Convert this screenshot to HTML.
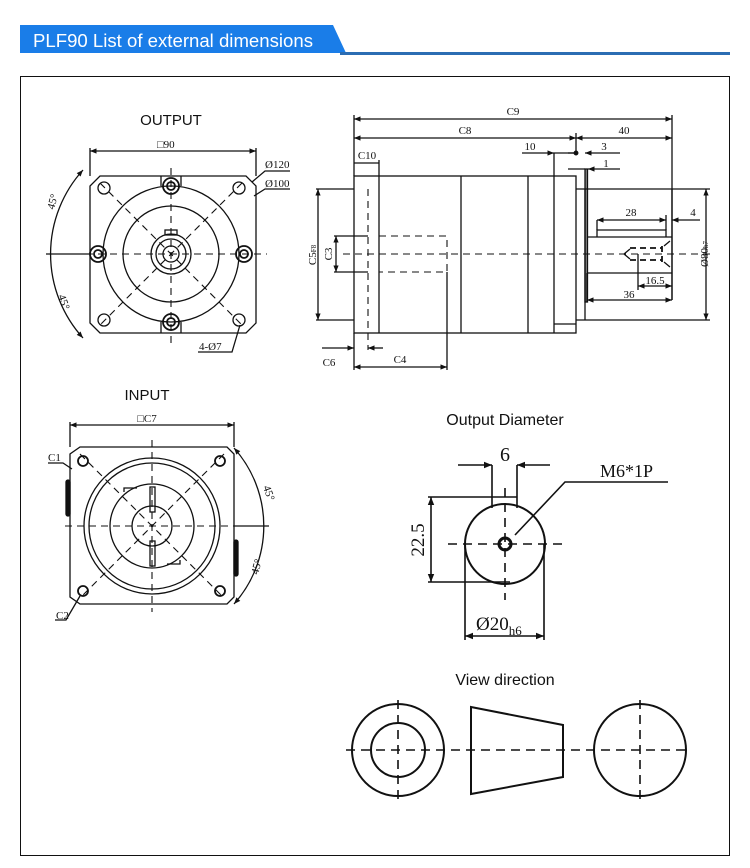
<!DOCTYPE html>
<html><head><meta charset="utf-8"><style>
html,body{margin:0;padding:0;background:#fff;}
svg{display:block;}
text{font-family:"Liberation Serif",serif;fill:#111;}
.s{font-family:"Liberation Sans","DejaVu Sans",sans-serif;}
</style></head><body>
<svg width="750" height="868" viewBox="0 0 750 868" xmlns="http://www.w3.org/2000/svg">
<defs>
<marker id="a" viewBox="0 0 10 10" refX="10" refY="5" markerWidth="7" markerHeight="5" orient="auto-start-reverse"><path d="M0,1 L10,5 L0,9z" fill="#111"/></marker>
</defs>
<!-- header -->
<polygon points="20,25 333,25 346,53 20,53" fill="#1a7de8"/>
<rect x="340" y="52" width="390" height="3" fill="#2b6db3"/>
<text x="33" y="47" class="s" font-size="18.5" textLength="280" lengthAdjust="spacingAndGlyphs" style="fill:#fff">PLF90 List of external dimensions</text>
<rect x="20.5" y="76.5" width="709" height="779" fill="none" stroke="#111" stroke-width="1"/>

<g stroke="#111" fill="none" stroke-width="1.3">
<!-- OUTPUT view -->
<path d="M100,176 L246,176 L256,186 L256,323 L246,333 L100,333 L90,323 L90,186 Z"/>
<circle cx="171" cy="254" r="68"/>
<circle cx="171" cy="254" r="48"/>
<circle cx="171" cy="254" r="20"/>
<circle cx="171" cy="254" r="15"/>
<circle cx="171" cy="254" r="8"/>
<rect x="165" y="230" width="12" height="5"/>
<g stroke-dasharray="7,5" stroke-width="1.1">
<line x1="74" y1="254" x2="267" y2="254"/><line x1="171" y1="168" x2="171" y2="343"/>
<line x1="100" y1="183" x2="242" y2="325"/><line x1="242" y1="183" x2="100" y2="325"/>
</g>
<g stroke-width="1.8">
<circle cx="98" cy="254" r="8"/><circle cx="98" cy="254" r="4"/>
<circle cx="244" cy="254" r="8"/><circle cx="244" cy="254" r="4"/>
<circle cx="171" cy="186" r="8"/><circle cx="171" cy="186" r="4"/>
<circle cx="171" cy="322" r="8"/><circle cx="171" cy="322" r="4"/>
</g>
<path d="M161,186 V176 M181,186 V176 M161,322 V333 M181,322 V333"/>
<circle cx="104" cy="188" r="6"/><circle cx="239" cy="188" r="6"/>
<circle cx="104" cy="320" r="6"/><circle cx="239" cy="320" r="6"/>
<line x1="90" y1="151" x2="256" y2="151" marker-start="url(#a)" marker-end="url(#a)"/>
<path d="M90,148 V176 M256,148 V176"/>
<path d="M83,170 A125,125 0 0 0 83,338" marker-start="url(#a)" marker-end="url(#a)"/>
<line x1="46" y1="254" x2="90" y2="254"/>
<path d="M252,182 L265,171 H290 M254,196 L265,189 H290"/>
<path d="M240,325 L232,352 H198"/>

<!-- side view -->
<line x1="354" y1="119" x2="672" y2="119" marker-start="url(#a)" marker-end="url(#a)"/>
<line x1="354" y1="138" x2="576" y2="138" marker-start="url(#a)" marker-end="url(#a)"/>
<line x1="576" y1="138" x2="672" y2="138" marker-start="url(#a)" marker-end="url(#a)"/>
<path d="M354,115 V176 M672,115 V300 M576,133 V153 M379,160 V176"/>
<line x1="354" y1="163" x2="379" y2="163"/>
<rect x="354" y="176" width="222" height="157"/>
<path d="M379,176 V333 M461,176 V333 M528,176 V333 M554,153 V333 M554,153 H576 M554,324 H576"/>
<rect x="585" y="169" width="2.5" height="133" fill="#888"/>
<path d="M576,189 H710 M576,320 H710 M585,189 V320"/>
<line x1="706" y1="189" x2="706" y2="320" marker-start="url(#a)" marker-end="url(#a)"/>
<path d="M587,237 H672 M587,273 H672 M672,189 V300 M597,237 V230 H666 V237"/>
<path d="M597,220 V230 M666,215 V230"/>
<line x1="597" y1="220" x2="666" y2="220" marker-start="url(#a)" marker-end="url(#a)"/>
<line x1="700" y1="220" x2="672" y2="220" marker-end="url(#a)"/>
<path d="M638,254 V290"/>
<line x1="638" y1="286" x2="672" y2="286" marker-start="url(#a)" marker-end="url(#a)"/>
<line x1="587" y1="300" x2="672" y2="300" marker-start="url(#a)" marker-end="url(#a)"/>
<path d="M587,273 V302"/>
<g stroke-dasharray="6,4" stroke-width="1.8"><path d="M630,248 H662 M630,260 H662 M662,246 V262"/></g>
<path d="M630,249 L624,254 L630,259 M664,246 L670,241 M664,262 L670,267"/>
<g stroke-dasharray="7,5" stroke-width="1.1">
<line x1="343" y1="254" x2="715" y2="254"/>
<path d="M368,189 V350 M379,236 H447 V272 H379"/>
</g>
<path d="M354,189 H316 M354,320 H316 M334,236 H368 M334,272 H368"/>
<line x1="318" y1="189" x2="318" y2="320" marker-start="url(#a)" marker-end="url(#a)"/>
<line x1="336" y1="236" x2="336" y2="272" marker-start="url(#a)" marker-end="url(#a)"/>
<path d="M354,333 V370 M447,272 V370"/>
<line x1="322" y1="348" x2="354" y2="348" marker-end="url(#a)"/>
<line x1="383" y1="348" x2="368" y2="348" marker-end="url(#a)"/>
<line x1="354" y1="367" x2="447" y2="367" marker-start="url(#a)" marker-end="url(#a)"/>
<line x1="522" y1="153" x2="554" y2="153" marker-end="url(#a)"/>
<line x1="620" y1="153" x2="585" y2="153" marker-end="url(#a)"/>
<line x1="568" y1="153" x2="576" y2="153"/>
<line x1="620" y1="169" x2="588" y2="169" marker-end="url(#a)"/>
<line x1="568" y1="169" x2="585" y2="169"/>
<circle cx="576" cy="153" r="1.8" fill="#111"/>

<!-- INPUT view -->
<path d="M80,447 L227,447 L234,454 L234,597 L227,604 L80,604 L70,597 L70,454 Z"/>
<circle cx="152" cy="526" r="68"/>
<circle cx="152" cy="526" r="63"/>
<circle cx="152" cy="526" r="42"/>
<circle cx="152" cy="526" r="20"/>
<path d="M124,492 V488 H137 M180,560 V564 H167"/>
<rect x="150" y="487" width="5" height="25"/><rect x="150" y="541" width="5" height="25"/>
<g stroke-dasharray="7,5" stroke-width="1.1">
<line x1="65" y1="526" x2="240" y2="526"/><line x1="152" y1="440" x2="152" y2="612"/>
<line x1="80" y1="454" x2="224" y2="598"/><line x1="224" y1="454" x2="80" y2="598"/>
</g>
<circle cx="83" cy="461" r="5" stroke-width="1.8"/><circle cx="220" cy="461" r="5" stroke-width="1.8"/>
<circle cx="83" cy="591" r="5" stroke-width="1.8"/><circle cx="220" cy="591" r="5" stroke-width="1.8"/>
<rect x="66" y="480" width="4" height="36" rx="2" fill="#111"/>
<rect x="234" y="540" width="4" height="36" rx="2" fill="#111"/>
<line x1="70" y1="425" x2="234" y2="425" marker-start="url(#a)" marker-end="url(#a)"/>
<path d="M70,422 V447 M234,422 V447"/>
<path d="M234,448 A117,117 0 0 1 234,604" marker-start="url(#a)" marker-end="url(#a)"/>
<line x1="234" y1="526" x2="269" y2="526"/>
<path d="M48,463 H63 L72,469 M55,620 H66 L80,596"/>

<!-- Output Diameter -->
<circle cx="505" cy="544" r="40" stroke-width="2"/>
<circle cx="505" cy="544" r="6" stroke-width="3"/>
<g stroke-dasharray="9,6" stroke-width="1.6"><path d="M448,544 H562 M505,488 V600"/></g>
<path d="M492,465 V508 M517,465 V508" stroke-width="1.6"/>
<line x1="458" y1="465" x2="492" y2="465" marker-end="url(#a)" stroke-width="1.6"/>
<line x1="550" y1="465" x2="517" y2="465" marker-end="url(#a)" stroke-width="1.6"/>
<path d="M668,482 H565 L515,535" stroke-width="1.6"/>
<path d="M428,497 H517 M428,582 H510" stroke-width="1.6"/>
<line x1="431" y1="497" x2="431" y2="582" marker-start="url(#a)" marker-end="url(#a)" stroke-width="1.6"/>
<path d="M465,544 V640 M544,544 V640" stroke-width="1.6"/>
<line x1="465" y1="636" x2="544" y2="636" marker-start="url(#a)" marker-end="url(#a)" stroke-width="1.6"/>

<!-- View direction -->
<g stroke-width="2">
<circle cx="398" cy="750" r="46"/><circle cx="398" cy="750" r="27"/>
<polygon points="471,707 563,725 563,777 471,794"/>
<circle cx="640" cy="750" r="46"/>
</g>
<g stroke-dasharray="9,6" stroke-width="1.6">
<path d="M346,750 H690 M398,700 V802 M640,700 V802"/>
</g>
</g>

<!-- labels -->
<text x="171" y="125" class="s" font-size="15" text-anchor="middle">OUTPUT</text>
<text x="157" y="148" font-size="11">□90</text>
<text x="265" y="168" font-size="11">Ø120</text>
<text x="265" y="187" font-size="11">Ø100</text>
<text x="199" y="350" font-size="11">4-Ø7</text>
<text x="54" y="210" font-size="11" transform="rotate(-75 54 210)">45°</text>
<text x="58" y="296" font-size="11" transform="rotate(70 58 296)">45°</text>
<text x="513" y="115" font-size="11" text-anchor="middle">C9</text>
<text x="465" y="134" font-size="11" text-anchor="middle">C8</text>
<text x="624" y="134" font-size="11" text-anchor="middle">40</text>
<text x="367" y="159" font-size="11" text-anchor="middle">C10</text>
<text x="530" y="150" font-size="11" text-anchor="middle">10</text>
<text x="604" y="150" font-size="11" text-anchor="middle">3</text>
<text x="606" y="167" font-size="11" text-anchor="middle">1</text>
<text x="631" y="216" font-size="11" text-anchor="middle">28</text>
<text x="693" y="216" font-size="11" text-anchor="middle">4</text>
<text x="655" y="284" font-size="11" text-anchor="middle">16.5</text>
<text x="629" y="298" font-size="11" text-anchor="middle">36</text>
<text x="329" y="366" font-size="11" text-anchor="middle">C6</text>
<text x="400" y="363" font-size="11" text-anchor="middle">C4</text>
<text x="316" y="255" font-size="11" text-anchor="middle" transform="rotate(-90 316 255)">C5<tspan font-size="7">F8</tspan></text>
<text x="332" y="254" font-size="11" text-anchor="middle" transform="rotate(-90 332 254)">C3</text>
<text x="708" y="254" font-size="11" text-anchor="middle" transform="rotate(-90 708 254)">Ø80<tspan font-size="7">h7</tspan></text>
<text x="147" y="400" class="s" font-size="15" text-anchor="middle">INPUT</text>
<text x="147" y="422" font-size="11" text-anchor="middle">□C7</text>
<text x="48" y="461" font-size="11">C1</text>
<text x="56" y="619" font-size="11">C2</text>
<text x="263" y="487" font-size="11" transform="rotate(70 263 487)">45°</text>
<text x="258" y="575" font-size="11" transform="rotate(-75 258 575)">45°</text>
<text x="505" y="425" class="s" font-size="16" text-anchor="middle">Output Diameter</text>
<text x="505" y="461" font-size="20" text-anchor="middle">6</text>
<text x="600" y="477" font-size="18">M6*1P</text>
<text x="424" y="540" font-size="19" text-anchor="middle" transform="rotate(-90 424 540)">22.5</text>
<text x="476" y="630" font-size="19">Ø20<tspan font-size="13" dy="5">h6</tspan></text>
<text x="505" y="685" class="s" font-size="16" text-anchor="middle">View direction</text>
</svg>
</body></html>
